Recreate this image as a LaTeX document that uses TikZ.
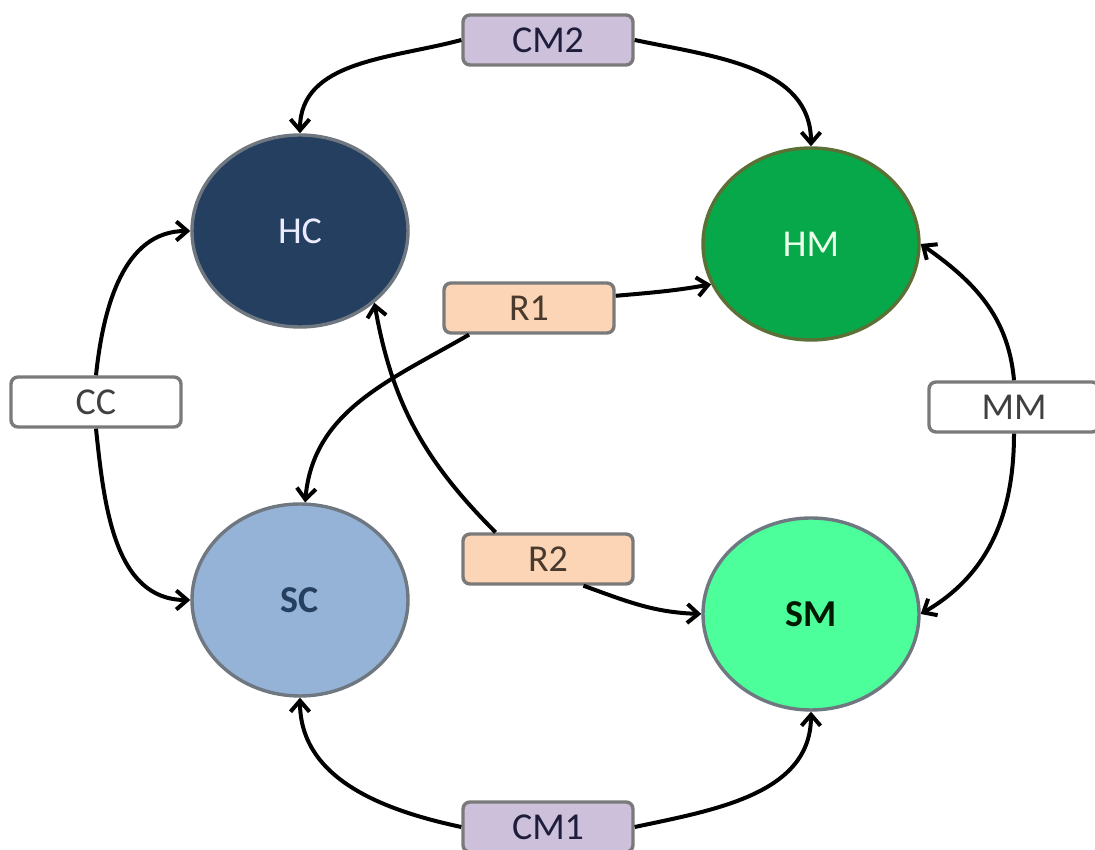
\documentclass[tikz,border=0pt]{standalone}
\usepackage{fontspec}
\setmainfont{Carlito}
\usetikzlibrary{arrows.meta,shapes.geometric}

\definecolor{hcfill}{HTML}{243F60}
\definecolor{hmfill}{HTML}{07A84A}
\definecolor{hmline}{HTML}{5A7035}
\definecolor{scfill}{HTML}{95B3D7}
\definecolor{smfill}{HTML}{4DFF9A}
\definecolor{ringgray}{HTML}{6F7780}
\definecolor{boxgray}{HTML}{7A7A7A}
\definecolor{cmfill}{HTML}{CCC0DA}
\definecolor{rfill}{HTML}{FBD5B5}
\definecolor{cmtext}{HTML}{1E1E3C}
\definecolor{rtext}{HTML}{4A3A2E}
\definecolor{plaintext}{HTML}{404040}

\begin{document}
\begin{tikzpicture}[x=1pt,y=1pt,
  state/.style={ellipse, minimum width=216pt, minimum height=192pt,
    inner sep=0pt, line width=3.4pt, font=\fontsize{38}{44}\selectfont},
  tag/.style={rectangle, rounded corners=7pt, minimum width=170pt,
    minimum height=50pt, inner sep=0pt, line width=3.4pt, draw=boxgray,
    font=\fontsize{38}{44}\selectfont},
  link/.style={line width=4pt, -{Straight Barb[length=11pt,width=19pt]}}
]
\useasboundingbox (0,0) rectangle (1095,850);

% the four states
\node[state, fill=hcfill, draw=ringgray, text=white!92!blue] (hc) at (300,619) {HC};
\node[state, fill=hmfill, draw=hmline, text=white!92!green] (hm) at (811,606) {HM};
\node[state, fill=scfill, draw=ringgray, text=hcfill, font=\fontsize{38}{44}\selectfont\bfseries] (sc) at (300,250) {SC};
\node[state, fill=smfill, draw=ringgray, text=black!90!green, font=\fontsize{38}{44}\selectfont\bfseries] (sm) at (811,236) {SM};

% transition labels
\node[tag, fill=cmfill, text=cmtext] (cm2) at (548,810) {CM2};
\node[tag, fill=cmfill, text=cmtext] (cm1) at (548,23) {CM1};
\node[tag, fill=rfill, text=rtext] (r1) at (529,542) {R1};
\node[tag, fill=rfill, text=rtext] (r2) at (548,291) {R2};
\node[tag, fill=white, text=plaintext] (cc) at (96,448) {CC};
\node[tag, fill=white, text=plaintext] (mm) at (1014,443) {MM};

% connectors
\draw[link] (cm2.west) to[out=195, in=90] (hc.north);
\draw[link] (cm2.east) to[out=-12, in=90] (hm.north);
\draw[link] (cc.north) to[out=84, in=180] (hc.west);
\draw[link] (cc.south) to[out=-84, in=180] (sc.west);
\draw[link] (mm.north) to[out=95, in=-35] (hm.east);
\draw[link] (mm.south) to[out=-90, in=30] (sm.east);
\draw[link] (cm1.west) to[out=168, in=-90] (sc.south);
\draw[link] (cm1.east) to[out=12, in=-90] (sm.south);
\draw[link] (r1.8) to[out=5, in=190] (hm.202);
\draw[link] (r1.204) to[out=210, in=85] (sc.87);
\draw[link] (r2.153) to[out=135, in=-80] (hc.-44);
\draw[link] (r2.-37) to[out=-20, in=178] (sm.west);
\end{tikzpicture}
\end{document}
